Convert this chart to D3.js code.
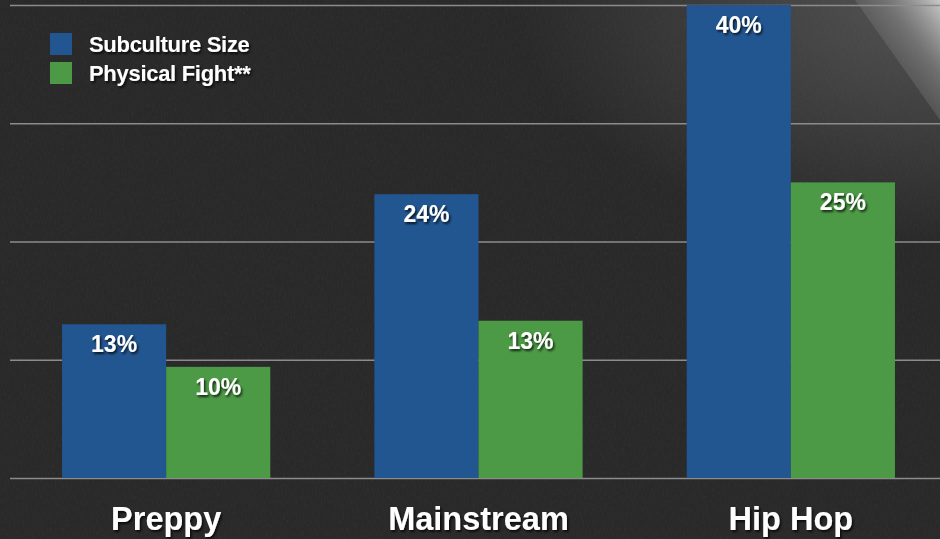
<!DOCTYPE html>
<html>
<head>
<meta charset="utf-8">
<script src="https://cdn.jsdelivr.net/npm/d3@7"></script>
<style>
  html, body { margin: 0; padding: 0; background: #2a2a2a; }
  svg { display: block; }
</style>
</head>
<body>
<svg id="chart" width="940" height="539"></svg>
<script>
// ---- data ----
const categories = ["Preppy", "Mainstream", "Hip Hop"];
const seriesNames = ["Subculture Size", "Physical Fight**"];
const subcultureSize = [13, 24, 40];
const physicalFight = [9.4, 13.3, 25];
const subcultureLabels = ["13%", "24%", "40%"];
const physicalLabels = ["10%", "13%", "25%"];
const gridTicks = [0, 10, 20, 30, 40];
const colors = ["#225691", "#4c9a46"];

const W = 940, H = 539;
const svg = d3.select("#chart");
const defs = svg.append("defs");

// background texture
const noise = defs.append("filter").attr("id", "noise").attr("x", 0).attr("y", 0).attr("width", "100%").attr("height", "100%");
noise.append("feTurbulence").attr("type", "fractalNoise").attr("baseFrequency", "0.9 0.25").attr("numOctaves", 3).attr("seed", 4).attr("result", "t");
noise.append("feColorMatrix").attr("in", "t").attr("type", "matrix")
  .attr("values", "0 0 0 0 0.5  0 0 0 0 0.5  0 0 0 0 0.5  0.5 0 0 0 -0.2");
svg.append("rect").attr("width", W).attr("height", H).attr("fill", "#292929");
svg.append("rect").attr("width", W).attr("height", H).attr("filter", "url(#noise)").attr("opacity", 0.18);

// top-right glow
const rg = defs.append("radialGradient").attr("id", "haze").attr("cx", "1").attr("cy", "0").attr("r", "0.45");
rg.append("stop").attr("offset", "0").attr("stop-color", "#888").attr("stop-opacity", 0.45);
rg.append("stop").attr("offset", "1").attr("stop-color", "#888").attr("stop-opacity", 0);
svg.append("rect").attr("width", W).attr("height", H).attr("fill", "url(#haze)");

const lg = defs.append("linearGradient").attr("id", "glow").attr("x1", "1").attr("y1", "0").attr("x2", "0.3").attr("y2", "0.7");
lg.append("stop").attr("offset", "0").attr("stop-color", "#e6e6e6").attr("stop-opacity", 0.8);
lg.append("stop").attr("offset", "0.45").attr("stop-color", "#aaaaaa").attr("stop-opacity", 0.4);
lg.append("stop").attr("offset", "1").attr("stop-color", "#777").attr("stop-opacity", 0.08);
svg.append("polygon").attr("points", "855,0 940,0 940,120").attr("fill", "url(#glow)");

// text shadow
const sh = defs.append("filter").attr("id", "shadow").attr("x", "-20%").attr("y", "-20%").attr("width", "140%").attr("height", "150%");
sh.append("feDropShadow").attr("dx", 1.5).attr("dy", 2).attr("stdDeviation", 1.2).attr("flood-color", "#000").attr("flood-opacity", 0.75);

// scales
const x0 = d3.scaleBand().domain(categories).range([10, 947]).paddingInner(1/3).paddingOuter(1/6);
const x1 = d3.scaleBand().domain(seriesNames).range([0, x0.bandwidth()]);
const y = d3.scaleLinear().domain([0, 40]).range([478, 5]);

// gridlines via axis
const grid = svg.append("g").attr("transform", "translate(10,0)")
  .call(d3.axisRight(y).tickValues(gridTicks).tickSize(W).tickFormat(""));
grid.select(".domain").remove();
grid.selectAll("line").attr("stroke", "#8c8c8c").attr("stroke-width", 1.6);

// bars
const values = [subcultureSize, physicalFight];
const labels = [subcultureLabels, physicalLabels];
const rows = [];
categories.forEach((c, i) => seriesNames.forEach((s, j) => rows.push({ c, s, j, v: values[j][i], l: labels[j][i] })));

svg.append("g").selectAll("rect").data(rows).join("rect")
  .attr("x", d => x0(d.c) + x1(d.s))
  .attr("y", d => y(d.v))
  .attr("width", x1.bandwidth())
  .attr("height", d => y(0) - y(d.v))
  .attr("fill", d => colors[d.j]);

svg.append("g").selectAll("text").data(rows).join("text")
  .attr("x", d => x0(d.c) + x1(d.s) + x1.bandwidth() / 2)
  .attr("y", d => y(d.v) + 28)
  .attr("text-anchor", "middle")
  .attr("fill", "#ffffff")
  .attr("font-family", "Liberation Sans, Arial, sans-serif")
  .attr("font-weight", "bold")
  .attr("font-size", 23)
  .attr("filter", "url(#shadow)")
  .text(d => d.l);

// category axis
const xa = svg.append("g").attr("transform", "translate(0,530)")
  .call(d3.axisBottom(x0).tickSize(0).tickPadding(0));
xa.select(".domain").remove();
xa.selectAll("text")
  .attr("dy", 0)
  .attr("fill", "#ffffff")
  .attr("font-family", "Liberation Sans, Arial, sans-serif")
  .attr("font-weight", "bold")
  .attr("font-size", 32.5)
  .attr("filter", "url(#shadow)");

// legend
const legend = svg.append("g").selectAll("g").data(seriesNames).join("g")
  .attr("transform", (d, i) => `translate(50,${33 + i * 29})`);
legend.append("rect").attr("width", 22).attr("height", 22).attr("fill", (d, i) => colors[i]);
legend.append("text").attr("x", 39).attr("y", 19)
  .attr("fill", "#ffffff")
  .attr("font-family", "Liberation Sans, Arial, sans-serif")
  .attr("font-weight", "bold")
  .attr("font-size", 22)
  .attr("letter-spacing", "-0.3")
  .attr("filter", "url(#shadow)")
  .text(d => d);
</script>
</body>
</html>
